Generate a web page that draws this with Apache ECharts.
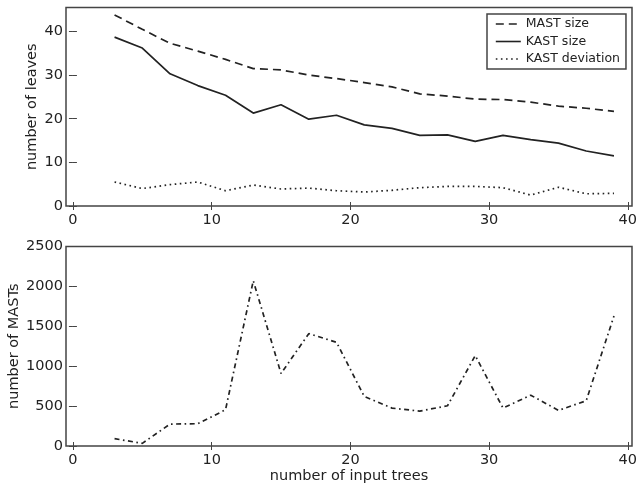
<!DOCTYPE html>
<html>
<head>
<meta charset="utf-8">
<script src="https://cdn.jsdelivr.net/npm/echarts@6/dist/echarts.min.js"></script>
<style>
  html, body { margin: 0; padding: 0; background: #fff; }
  #chart { width: 638px; height: 486px; }
</style>
</head>
<body>
<div id="chart"></div>
<script>
// number of input trees
const inputTrees = [3, 5, 7, 9, 11, 13, 15, 17, 19, 21, 23, 25, 27, 29, 31, 33, 35, 37, 39];
// top panel: number of leaves
const mastSize = [43.8, 40.5, 37.3, 35.5, 33.6, 31.5, 31.2, 30.0, 29.2, 28.3, 27.3, 25.7, 25.2, 24.5, 24.4, 23.8, 22.9, 22.4, 21.7];
const kastSize = [38.7, 36.2, 30.3, 27.6, 25.4, 21.3, 23.2, 19.9, 20.8, 18.6, 17.8, 16.2, 16.3, 14.8, 16.2, 15.2, 14.4, 12.6, 11.5];
const kastDeviation = [5.5, 4.0, 4.9, 5.5, 3.5, 4.8, 3.9, 4.1, 3.5, 3.2, 3.6, 4.2, 4.5, 4.5, 4.2, 2.5, 4.3, 2.8, 2.9];
// bottom panel: number of MASTs
const mastCount = [92, 33, 275, 279, 454, 2071, 908, 1408, 1300, 621, 475, 437, 504, 1133, 475, 637, 446, 567, 1629];

const xTicks = [0, 10, 20, 30, 40];
const leafTicks = [0, 10, 20, 30, 40];
const mastTicks = [0, 500, 1000, 1500, 2000, 2500];

const INK = '#222222';
const FRAME = '#444444';
const FONT = 'DejaVu Sans';
const DASHED = [8, 5];
const DOTTED = [1.6, 3.5];
const DASHDOT = [5, 3.5, 1.6, 3.5];

function pairs(ys) {
  return inputTrees.map((x, i) => [x, ys[i]]);
}

function xAxisFor(gridIndex, bottom) {
  return {
    type: 'value',
    gridIndex: gridIndex,
    position: bottom ? 'bottom' : 'top',
    min: -0.5,
    max: 40.3,
    axisLine: { show: false },
    splitLine: { show: false },
    axisTick: {
      show: true, inside: true, length: 4, customValues: xTicks,
      lineStyle: { color: FRAME, width: 1 }
    },
    axisLabel: {
      show: bottom, customValues: xTicks, margin: 7,
      formatter: v => String(v),
      fontFamily: FONT, fontSize: 14.5, color: INK
    }
  };
}

function yAxisFor(gridIndex, left, max, ticks, name, gap) {
  return {
    type: 'value',
    gridIndex: gridIndex,
    position: left ? 'left' : 'right',
    min: 0,
    max: max,
    name: left ? name : '',
    nameLocation: 'middle',
    nameGap: gap,
    nameMoveOverlap: false,
    nameTextStyle: { fontFamily: FONT, fontSize: 14.5, color: INK },
    axisLine: { show: false },
    splitLine: { show: false },
    axisTick: {
      show: true, inside: true, length: 4, customValues: ticks,
      lineStyle: { color: FRAME, width: 1 }
    },
    axisLabel: {
      show: left, customValues: ticks, margin: 3,
      formatter: v => String(v),
      fontFamily: FONT, fontSize: 14.5, color: INK
    }
  };
}

function lineSeries(name, ys, dash, xi, yi) {
  return {
    name: name,
    type: 'line',
    xAxisIndex: xi,
    yAxisIndex: yi,
    data: pairs(ys),
    symbol: 'none',
    lineStyle: { color: INK, width: 1.7, type: dash },
    itemStyle: { color: INK }
  };
}

function legendItem(name, dash) {
  return {
    name: name,
    lineStyle: { type: dash, width: 1.6, color: INK },
    itemStyle: { opacity: 0 }
  };
}

const chart = echarts.init(document.getElementById('chart'), null, { renderer: 'canvas' });
chart.setOption({
  animation: false,
  backgroundColor: '#ffffff',
  grid: [
    { left: 66, right: 6, top: 7.5, height: 198.5, outerBoundsMode: 'none', containLabel: false,
      show: true, borderColor: FRAME, borderWidth: 1.5, backgroundColor: '#fff' },
    { left: 66, right: 6, top: 246.5, height: 199.5, outerBoundsMode: 'none', containLabel: false,
      show: true, borderColor: FRAME, borderWidth: 1.5, backgroundColor: '#fff' }
  ],
  xAxis: [
    xAxisFor(0, true),
    xAxisFor(0, false),
    Object.assign(xAxisFor(1, true), {
      name: 'number of input trees',
      nameLocation: 'middle',
      nameGap: 23,
      nameMoveOverlap: false,
      nameTextStyle: { fontFamily: FONT, fontSize: 14.5, color: INK }
    }),
    xAxisFor(1, false)
  ],
  yAxis: [
    yAxisFor(0, true, 45.5, leafTicks, 'number of leaves', 26),
    yAxisFor(0, false, 45.5, leafTicks, '', 0),
    yAxisFor(1, true, 2500, mastTicks, 'number of MASTs', 44),
    yAxisFor(1, false, 2500, mastTicks, '', 0)
  ],
  legend: {
    data: [
      legendItem('MAST size', DASHED),
      legendItem('KAST size', 'solid'),
      legendItem('KAST deviation', DOTTED)
    ],
    orient: 'vertical',
    left: 487,
    top: 14,
    padding: [3.5, 6, 3.5, 8],
    itemWidth: 25,
    itemHeight: 14,
    itemGap: 4.5,
    backgroundColor: '#fff',
    borderColor: FRAME,
    borderWidth: 1.5,
    borderRadius: 0,
    textStyle: { fontFamily: FONT, fontSize: 12.5, color: INK }
  },
  series: [
    lineSeries('MAST size', mastSize, DASHED, 0, 0),
    lineSeries('KAST size', kastSize, 'solid', 0, 0),
    lineSeries('KAST deviation', kastDeviation, DOTTED, 0, 0),
    lineSeries('number of MASTs', mastCount, DASHDOT, 2, 2)
  ]
});
</script>
</body>
</html>
